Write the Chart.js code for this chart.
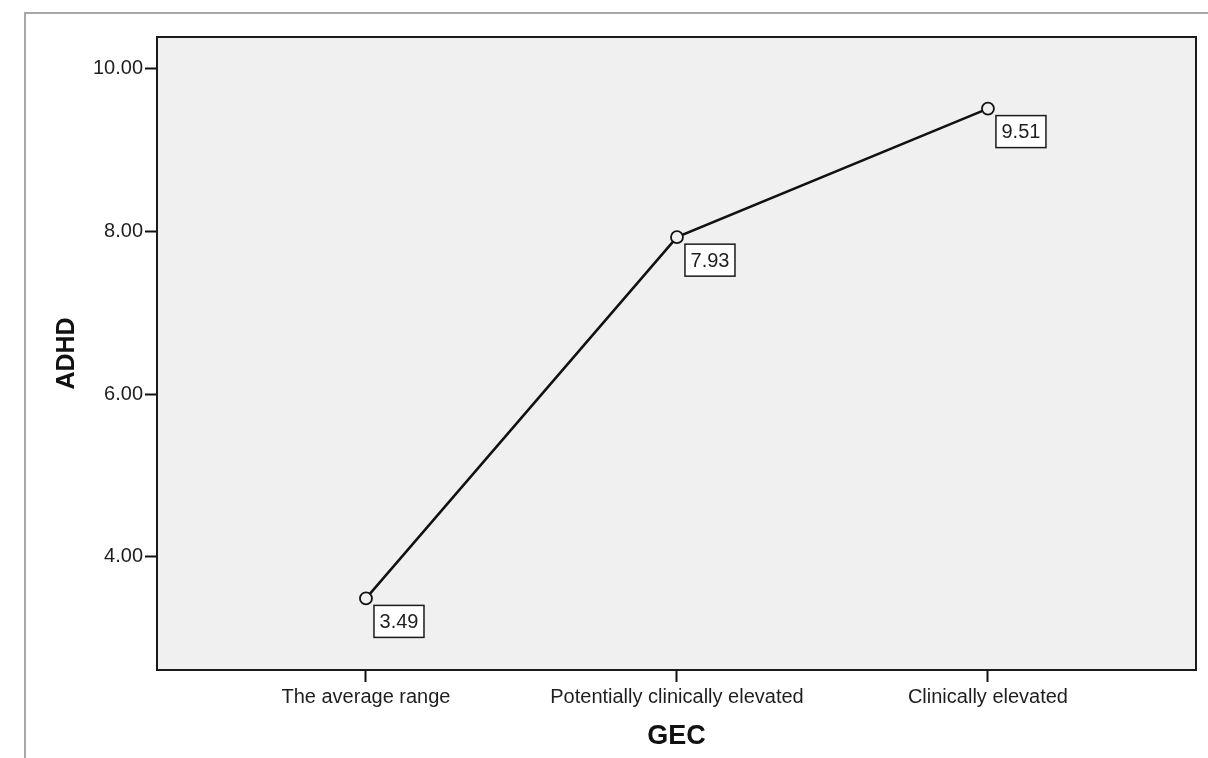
<!DOCTYPE html>
<html>
<head>
<meta charset="utf-8">
<script src="https://cdn.jsdelivr.net/npm/chart.js@4.4.1/dist/chart.umd.min.js"></script>
<style>
  html, body { margin: 0; padding: 0; background: #fff; }
  #wrap { width: 1208px; height: 758px; }
</style>
</head>
<body>
<div id="wrap"><canvas id="gecChart" width="1208" height="758"></canvas></div>
<script>
const categories = ["The average range", "Potentially clinically elevated", "Clinically elevated"];
const adhdMeans = [3.49, 7.93, 9.51];
const yTicks = [4, 6, 8, 10];

const FONT = "'Liberation Sans', Arial, sans-serif";

// background, outer frame, plot panel
const panelPlugin = {
  id: "panel",
  beforeDraw(chart) {
    const { ctx, chartArea: a } = chart;
    ctx.save();
    ctx.fillStyle = "#fff";
    ctx.fillRect(0, 0, chart.width, chart.height);
    ctx.strokeStyle = "#a8a8a8";
    ctx.lineWidth = 2;
    ctx.beginPath();
    ctx.moveTo(25, 758);
    ctx.lineTo(25, 13);
    ctx.lineTo(1208, 13);
    ctx.stroke();
    ctx.fillStyle = "#f0f0f0";
    ctx.fillRect(a.left, a.top, a.right - a.left, a.bottom - a.top);
    ctx.restore();
  },
  afterDraw(chart) {
    const { ctx, chartArea: a } = chart;
    ctx.save();
    ctx.strokeStyle = "#1a1a1a";
    ctx.lineWidth = 2;
    ctx.strokeRect(a.left, a.top, a.right - a.left, a.bottom - a.top);
    ctx.restore();
  }
};

// boxed value labels next to each point
const valueBoxes = {
  id: "valueBoxes",
  afterDatasetsDraw(chart) {
    const { ctx } = chart;
    const meta = chart.getDatasetMeta(0);
    ctx.save();
    ctx.font = "20px " + FONT;
    ctx.textAlign = "center";
    ctx.textBaseline = "middle";
    meta.data.forEach((pt, i) => {
      const txt = adhdMeans[i].toFixed(2);
      const w = 50, h = 32;
      const bx = pt.x + 8, by = pt.y + 7;
      ctx.fillStyle = "#fff";
      ctx.fillRect(bx, by, w, h);
      ctx.strokeStyle = "#1a1a1a";
      ctx.lineWidth = 1.5;
      ctx.strokeRect(bx, by, w, h);
      ctx.fillStyle = "#1e1e1e";
      ctx.fillText(txt, bx + w / 2, by + h / 2 + 1);
    });
    ctx.restore();
  }
};

new Chart(document.getElementById("gecChart"), {
  type: "line",
  data: {
    datasets: [{
      data: adhdMeans.map((v, i) => ({ x: i, y: v })),
      borderColor: "#111",
      borderWidth: 2.5,
      pointRadius: 6,
      pointBorderWidth: 1.8,
      pointBorderColor: "#111",
      pointBackgroundColor: "#f0f0f0",
      tension: 0
    }]
  },
  options: {
    responsive: false,
    animation: false,
    layout: { padding: { left: 0, top: 37, right: 12, bottom: 0 } },
    plugins: { legend: { display: false }, tooltip: { enabled: false } },
    scales: {
      x: {
        type: "linear",
        min: -0.672,
        max: 2.669,
        afterBuildTicks(scale) {
          scale.ticks = categories.map((c, i) => ({ value: i }));
        },
        afterFit(scale) { scale.height = 88; },
        ticks: {
          callback: (v) => categories[v],
          font: { family: FONT, size: 20 },
          color: "#1e1e1e",
          padding: 3,
          maxRotation: 0
        },
        grid: { drawOnChartArea: false, tickLength: 12, tickWidth: 2, tickColor: "#111" },
        border: { display: false },
        title: {
          display: true,
          text: "GEC",
          font: { family: FONT, size: 27, weight: "bold" },
          color: "#111",
          padding: { top: 0, bottom: 5 }
        }
      },
      y: {
        min: 2.61,
        max: 10.39,
        afterBuildTicks(scale) {
          scale.ticks = yTicks.map((v) => ({ value: v }));
        },
        afterFit(scale) { scale.width = 157; },
        ticks: {
          callback: (v) => v.toFixed(2),
          font: { family: FONT, size: 20 },
          color: "#1e1e1e",
          padding: 2
        },
        grid: { drawOnChartArea: false, tickLength: 12, tickWidth: 2, tickColor: "#111" },
        border: { display: false },
        title: {
          display: true,
          text: "ADHD",
          font: { family: FONT, size: 25, weight: "bold" },
          color: "#111",
          padding: { top: 52, bottom: 0 }
        }
      }
    }
  },
  plugins: [panelPlugin, valueBoxes]
});
</script>
</body>
</html>
